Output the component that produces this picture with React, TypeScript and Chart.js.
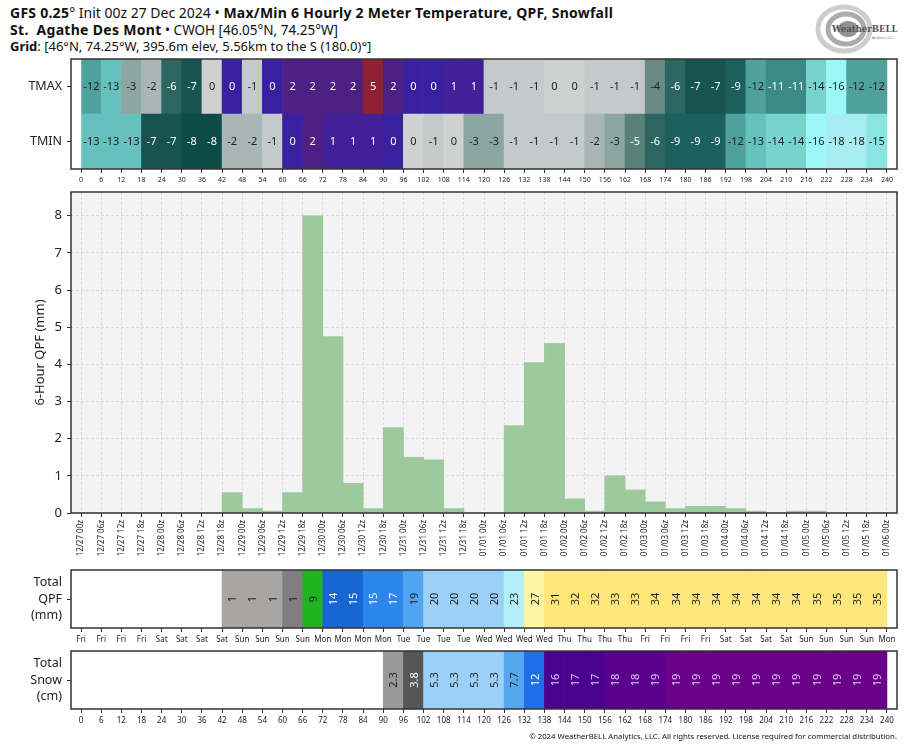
import React, { useEffect, useRef } from "react";
import { Chart, registerables } from "chart.js";
Chart.register(...registerables);

// ---------------- DATA ----------------
const HOURS: number[] = [0, 6, 12, 18, 24, 30, 36, 42, 48, 54, 60, 66, 72, 78, 84, 90, 96, 102, 108, 114, 120,
  126, 132, 138, 144, 150, 156, 162, 168, 174, 180, 186, 192, 198, 204, 210, 216, 222, 228, 234, 240];

const DATE_LABELS: string[] = [
  "12/27 00z", "12/27 06z", "12/27 12z", "12/27 18z",
  "12/28 00z", "12/28 06z", "12/28 12z", "12/28 18z",
  "12/29 00z", "12/29 06z", "12/29 12z", "12/29 18z",
  "12/30 00z", "12/30 06z", "12/30 12z", "12/30 18z",
  "12/31 00z", "12/31 06z", "12/31 12z", "12/31 18z",
  "01/01 00z", "01/01 06z", "01/01 12z", "01/01 18z",
  "01/02 00z", "01/02 06z", "01/02 12z", "01/02 18z",
  "01/03 00z", "01/03 06z", "01/03 12z", "01/03 18z",
  "01/04 00z", "01/04 06z", "01/04 12z", "01/04 18z",
  "01/05 00z", "01/05 06z", "01/05 12z", "01/05 18z",
  "01/06 00z",
];

const DAY_LABELS: string[] = [
  "Fri", "Fri", "Fri", "Fri", "Sat", "Sat", "Sat", "Sat", "Sun", "Sun", "Sun", "Sun",
  "Mon", "Mon", "Mon", "Mon", "Tue", "Tue", "Tue", "Tue", "Wed", "Wed", "Wed", "Wed",
  "Thu", "Thu", "Thu", "Thu", "Fri", "Fri", "Fri", "Fri", "Sat", "Sat", "Sat", "Sat",
  "Sun", "Sun", "Sun", "Sun", "Mon",
];

const TEMP_ROWS: string[] = ["TMAX", "TMIN"];

// 6-hourly max temperature (°C), one per 6h interval (0-6 ... 234-240)
const TMAX: number[] = [-12, -13, -3, -2, -6, -7, -0.3, 0.3, -1, 0.3, 2, 2, 2, 2, 5, 2, 0.3, 0.3, 1, 1,
  -1, -1, -1, -0.3, -0.3, -1, -1, -1, -4, -6, -7, -7, -9, -12, -11, -11, -14, -16, -12, -12];

// 6-hourly min temperature (°C)
const TMIN: number[] = [-13, -13, -13, -7, -7, -8, -8, -2, -2, -1, 0.3, 2, 1, 1, 1, 0.3, -0.3, -1, -0.3, -3,
  -3, -1, -1, -1, -1, -2, -3, -5, -6, -9, -9, -9, -12, -13, -14, -14, -16, -18, -18, -15];

// 6-hour QPF (mm)
const QPF_6H: number[] = [0, 0, 0, 0, 0, 0, 0, 0.55, 0.12, 0.05, 0.55, 8.0, 4.75, 0.8, 0.12, 2.3, 1.5, 1.43, 0.12, 0,
  0, 2.35, 4.05, 4.57, 0.38, 0.05, 1.0, 0.62, 0.3, 0.12, 0.18, 0.18, 0.12, 0.05, 0, 0.05, 0.05, 0, 0, 0];

// accumulated QPF (mm)
const QPF_TOTAL: number[] = [0, 0, 0, 0, 0, 0, 0, 0.6, 0.7, 0.7, 1.3, 9.3, 14.1, 14.9, 15.1, 17.3, 18.8, 20.2, 20.3, 20.3,
  20.3, 22.7, 26.7, 31.3, 31.6, 31.7, 32.7, 33.3, 33.6, 33.7, 33.9, 34.1, 34.2, 34.3, 34.3, 34.4, 34.6, 34.6, 34.7, 34.7];

// accumulated snowfall (cm)
const SNOW_TOTAL: number[] = [0, 0, 0, 0, 0, 0, 0, 0, 0, 0, 0, 0, 0, 0, 0, 2.3, 3.8, 5.3, 5.3, 5.3,
  5.3, 7.7, 12.1, 16.2, 16.8, 17.2, 18.0, 18.3, 18.8, 19.1, 19.1, 19.2, 19.2, 19.2, 19.2, 19.3, 19.3, 19.3, 19.3, 19.3];

const QPF_Y_MAX = 8.64;
const QPF_Y_TICKS: number[] = [0, 1, 2, 3, 4, 5, 6, 7, 8];

// ---------------- STYLES / COLOUR MAPS ----------------
const FONT = '"Noto Sans", "Open Sans", "DejaVu Sans", sans-serif';
const TXT = "#222222";
const FRAME = "#333333";

const COLD_STOPS: [number, string][] = [
  [-18, "#a8edf2"], [-16, "#9cf8f8"], [-15, "#88e5e1"], [-14, "#78d2ce"], [-13, "#64c1bd"],
  [-12, "#50a09c"], [-11, "#3c8a86"], [-10, "#2a7470"], [-9, "#1b605c"], [-8, "#0d4b46"],
  [-7, "#17544f"], [-6, "#2d6660"], [-5, "#5a807c"], [-4, "#6a8a88"], [-3, "#8ca6a2"],
  [-2, "#a8b6b4"], [-1, "#c4c9c9"], [0, "#d4d4d4"],
];
const WARM_STOPS: [number, string][] = [[0, "#3420a4"], [1, "#42209a"], [2, "#4e2084"], [5, "#8e2232"]];

type Bin = { min: number; color: string; text: string };
const QPF_BINS: Bin[] = [
  { min: 0.01, color: "#a9a5a3", text: TXT },
  { min: 1, color: "#7f7f7f", text: TXT },
  { min: 5, color: "#20b420", text: TXT },
  { min: 12.7, color: "#1866d4", text: "#ffffff" },
  { min: 15, color: "#2d86ea", text: "#ffffff" },
  { min: 18.5, color: "#52a5f2", text: TXT },
  { min: 20, color: "#9bd1f8", text: TXT },
  { min: 22.5, color: "#b3f1f9", text: TXT },
  { min: 25, color: "#fff5a3", text: TXT },
  { min: 30, color: "#fee77a", text: TXT },
];
const SNOW_BINS: Bin[] = [
  { min: 0.01, color: "#cfcfcf", text: TXT },
  { min: 2, color: "#9a9a9a", text: TXT },
  { min: 3, color: "#565656", text: "#ffffff" },
  { min: 5, color: "#9bd1f8", text: TXT },
  { min: 7.5, color: "#56a7f2", text: TXT },
  { min: 10, color: "#1f6fe8", text: "#ffffff" },
  { min: 15, color: "#4a018f", text: "#dcc8f4" },
  { min: 17.8, color: "#5a0190", text: "#dcc8f4" },
  { min: 19, color: "#6a0088", text: "#dcc8f4" },
];

function hexToRgb(h: string): number[] {
  const n = parseInt(h.slice(1), 16);
  return [(n >> 16) & 255, (n >> 8) & 255, n & 255];
}
function interp(stops: [number, string][], v: number): string {
  if (v <= stops[0][0]) return stops[0][1];
  if (v >= stops[stops.length - 1][0]) return stops[stops.length - 1][1];
  for (let i = 0; i < stops.length - 1; i++) {
    const [a, ca] = stops[i];
    const [b, cb] = stops[i + 1];
    if (v >= a && v <= b) {
      const t = (v - a) / (b - a);
      const A = hexToRgb(ca), B = hexToRgb(cb);
      const c = A.map((x, k) => Math.round(x + (B[k] - x) * t));
      return `rgb(${c[0]},${c[1]},${c[2]})`;
    }
  }
  return stops[0][1];
}
const tempColor = (v: number) => (v > 0 ? interp(WARM_STOPS, v) : interp(COLD_STOPS, v));
const tempText = (v: number) => (v > 0 || (v <= -5 && v >= -11) ? "#ffffff" : TXT);
function binOf(bins: Bin[], v: number): Bin {
  let r = bins[0];
  for (const b of bins) if (v >= b.min) r = b;
  return r;
}

// ---------------- HELPERS ----------------
type Cell = { y: string; x: [number, number]; v: number };
function cellsFrom(values: number[], row: string, skipZero: boolean): Cell[] {
  const out: Cell[] = [];
  values.forEach((v, i) => {
    if (skipZero && v === 0) return;
    out.push({ y: row, x: [HOURS[i], HOURS[i + 1]], v });
  });
  return out;
}

const noPad = (s: any) => {
  s.paddingTop = 0; s.paddingBottom = 0; s.paddingLeft = 0; s.paddingRight = 0;
};

function framePlugin(bg?: string) {
  return {
    id: "frame",
    beforeDraw(chart: any) {
      if (!bg) return;
      const { ctx, chartArea: a } = chart;
      ctx.save();
      ctx.fillStyle = bg;
      ctx.fillRect(a.left, a.top, a.right - a.left, a.bottom - a.top);
      ctx.restore();
    },
    afterDraw(chart: any) {
      const { ctx, chartArea: a } = chart;
      ctx.save();
      ctx.strokeStyle = FRAME;
      ctx.lineWidth = 1.5;
      ctx.strokeRect(a.left, a.top, a.right - a.left, a.bottom - a.top);
      ctx.restore();
    },
  };
}

function cellLabelPlugin(size: number, rotate: boolean, fmt: (v: number) => string, color: (v: number) => string) {
  return {
    id: "cellLabels",
    afterDatasetsDraw(chart: any) {
      const { ctx } = chart;
      const meta = chart.getDatasetMeta(0);
      const data = chart.data.datasets[0].data as Cell[];
      ctx.save();
      ctx.font = `${size}px ${FONT}`;
      ctx.textAlign = "center";
      ctx.textBaseline = "middle";
      meta.data.forEach((el: any, i: number) => {
        const c = data[i];
        const p = el.getCenterPoint();
        ctx.fillStyle = color(c.v);
        const t = fmt(c.v);
        if (rotate) {
          ctx.save();
          ctx.translate(p.x + 1, p.y);
          ctx.rotate(-Math.PI / 2);
          ctx.fillText(t, 0, 0);
          ctx.restore();
        } else {
          ctx.fillText(t, p.x, p.y + 0.5);
        }
      });
      ctx.restore();
    },
  };
}

const hourTicks = (s: any) => {
  s.ticks = HOURS.map((v) => ({ value: v }));
};

function xHourAxis(height: number, labels: (v: number) => string, size: number) {
  return {
    type: "linear",
    min: -3,
    max: 243,
    offset: false,
    afterBuildTicks: hourTicks,
    afterFit: (s: any) => { s.height = height; noPad(s); },
    ticks: {
      autoSkip: false,
      maxRotation: 0,
      minRotation: 0,
      padding: 3,
      color: TXT,
      font: { family: FONT, size },
      callback: (v: any) => labels(Number(v)),
    },
    grid: {
      offset: false,
      drawOnChartArea: false,
      drawTicks: true,
      tickLength: 4,
      color: FRAME,
      tickColor: FRAME,
    },
    border: { display: false },
  };
}

function rowConfig(cells: Cell[], rows: string[], rowLabel: (i: number) => any, fillOf: (v: number) => string,
  padTop: number, xAxisH: number, xLabels: (v: number) => string, xSize: number, plugins: any[]) {
  return {
    type: "bar",
    data: {
      datasets: [{
        data: cells,
        backgroundColor: (ctx: any) => (ctx.raw ? fillOf(ctx.raw.v) : "#fff"),
        borderWidth: 0,
        barPercentage: 1,
        categoryPercentage: 1,
      }],
    },
    options: {
      indexAxis: "y",
      responsive: false,
      maintainAspectRatio: false,
      animation: false,
      events: [],
      layout: { padding: { left: 0, right: 17, top: padTop, bottom: 0 } },
      plugins: { legend: { display: false }, tooltip: { enabled: false }, title: { display: false } },
      scales: {
        x: xHourAxis(xAxisH, xLabels, xSize),
        y: {
          type: "category",
          labels: rows,
          offset: true,
          afterFit: (s: any) => { s.width = 71; noPad(s); },
          ticks: {
            color: TXT,
            padding: 5,
            font: { family: FONT, size: 12.5, lineHeight: 1.3 },
            callback: (_v: any, i: number) => rowLabel(i),
          },
          grid: { offset: false, drawOnChartArea: false, tickLength: 4, color: FRAME, tickColor: FRAME },
          border: { display: false },
        },
      },
    },
    plugins,
  };
}

// ---------------- APP ----------------
export default function App() {
  const c1 = useRef<HTMLCanvasElement>(null);
  const c2 = useRef<HTMLCanvasElement>(null);
  const c3 = useRef<HTMLCanvasElement>(null);
  const c4 = useRef<HTMLCanvasElement>(null);

  useEffect(() => {
    const charts: Chart[] = [];

    // Panel 1: TMAX / TMIN heat strip
    const tempCells = [...cellsFrom(TMAX, "TMAX", false), ...cellsFrom(TMIN, "TMIN", false)];
    charts.push(new Chart(c1.current!, rowConfig(
      tempCells, TEMP_ROWS, (i) => TEMP_ROWS[i], tempColor, 9, 21,
      (v) => String(v), 7,
      [framePlugin(), cellLabelPlugin(11, false, (v) => String(Math.round(v)), tempText)],
    ) as any));

    // Panel 2: 6-hour QPF bars
    charts.push(new Chart(c2.current!, {
      type: "bar",
      data: {
        datasets: [{
          data: QPF_6H.map((v, i) => ({ x: HOURS[i] + 3, y: v })),
          backgroundColor: "#9dca9c",
          borderWidth: 0,
          barPercentage: 1,
          categoryPercentage: 1,
        }],
      },
      options: {
        responsive: false,
        maintainAspectRatio: false,
        animation: false,
        events: [],
        layout: { padding: { left: 0, right: 17, top: 2, bottom: 0 } },
        plugins: { legend: { display: false }, tooltip: { enabled: false } },
        scales: {
          x: {
            ...xHourAxis(57, (v) => DATE_LABELS[HOURS.indexOf(v)] ?? "", 8),
            ticks: {
              autoSkip: false, maxRotation: 90, minRotation: 90, padding: 3, color: TXT,
              font: { family: FONT, size: 8 },
              callback: (v: any) => DATE_LABELS[HOURS.indexOf(Number(v))] ?? "",
            },
            grid: {
              offset: false, drawOnChartArea: true, drawTicks: true, tickLength: 4,
              color: "#d4d4d4", lineWidth: 0.8, tickColor: FRAME, tickWidth: 1,
            },
            border: { display: false, dash: [3, 2] },
          },
          y: {
            type: "linear",
            min: 0,
            max: QPF_Y_MAX,
            afterBuildTicks: (s: any) => { s.ticks = QPF_Y_TICKS.map((v) => ({ value: v })); },
            afterFit: (s: any) => { s.width = 71; noPad(s); },
            title: {
              display: true, text: "6-Hour QPF (mm)", color: TXT,
              font: { family: FONT, size: 13 }, padding: { top: 32, bottom: 0 },
            },
            ticks: { color: TXT, padding: 5, font: { family: FONT, size: 13 }, callback: (v: any) => String(v) },
            grid: { color: "#d4d4d4", lineWidth: 0.8, tickLength: 4, tickColor: FRAME, tickWidth: 1 },
            border: { display: false, dash: [3, 2] },
          },
        },
      },
      plugins: [framePlugin("#f3f3f3")],
    } as any));

    // Panel 3: Total QPF
    charts.push(new Chart(c3.current!, rowConfig(
      cellsFrom(QPF_TOTAL, "QPF", true), ["QPF"], () => ["Total", "QPF", "(mm)"],
      (v) => binOf(QPF_BINS, v).color, 5, 22,
      (v) => DAY_LABELS[HOURS.indexOf(v)] ?? "", 8,
      [framePlugin(), cellLabelPlugin(11, true, (v) => String(Math.round(v)), (v) => binOf(QPF_BINS, v).text)],
    ) as any));

    // Panel 4: Total Snow
    charts.push(new Chart(c4.current!, rowConfig(
      cellsFrom(SNOW_TOTAL, "SNOW", true), ["SNOW"], () => ["Total", "Snow", "(cm)"],
      (v) => binOf(SNOW_BINS, v).color, 6, 21,
      (v) => String(v), 8,
      [framePlugin(), cellLabelPlugin(11, true, (v) => (v < 10 ? v.toFixed(1) : String(Math.round(v))), (v) => binOf(SNOW_BINS, v).text)],
    ) as any));

    return () => charts.forEach((c) => c.destroy());
  }, []);

  const cv = (top: number, h: number): React.CSSProperties => ({
    position: "absolute", left: 0, top, width: 914, height: h, display: "block",
  });
  const line: React.CSSProperties = {
    position: "absolute", left: 10, fontFamily: FONT, fontSize: 13, lineHeight: "17px",
    color: "#111", whiteSpace: "pre",
  };

  return (
    <div style={{ position: "absolute", left: 0, top: 0, width: 914, height: 750, background: "#fff", overflow: "hidden" }}>
      <div style={{ ...line, top: 4, fontSize: 14 }}>
        <b style={{ letterSpacing: "0.25px" }}>GFS 0.25</b>° Init 00z 27 Dec 2024 • <b style={{ letterSpacing: "0.25px" }}>Max/Min 6 Hourly 2 Meter Temperature, QPF, Snowfall</b>
      </div>
      <div style={{ ...line, top: 21, fontSize: 13.5 }}>
        <b style={{ fontSize: 14, letterSpacing: "0.3px" }}>St.  Agathe Des Mont</b> • CWOH [46.05°N, 74.25°W]
      </div>
      <div style={{ ...line, top: 38 }}>
        <b>Grid</b>: [46°N, 74.25°W, 395.6m elev, 5.56km to the S (180.0)°]
      </div>

      <svg style={{ position: "absolute", left: 810, top: 2, width: 96, height: 54 }} viewBox="0 0 96 54">
        <ellipse cx="34" cy="27" rx="26" ry="22" fill="none" stroke="#cdcdcd" strokeWidth="5" />
        <ellipse cx="36" cy="27" rx="18" ry="15" fill="none" stroke="#ababab" strokeWidth="5" />
        <ellipse cx="38" cy="27" rx="10" ry="8" fill="#929292" />
        <text x="22" y="30" fontFamily="'DejaVu Serif', serif" fontSize="8.5" fontWeight="bold" fill="#555">WeatherBELL</text>
        <text x="62" y="37" fontFamily={FONT} fontSize="3.5" fill="#777">Analytics LLC</text>
      </svg>

      <canvas ref={c1} width={914} height={140} style={cv(50, 140)} />
      <canvas ref={c2} width={914} height={380} style={cv(190, 380)} />
      <canvas ref={c3} width={914} height={85} style={cv(565, 85)} />
      <canvas ref={c4} width={914} height={85} style={cv(645, 85)} />

      <div style={{
        position: "absolute", right: 17, top: 731, fontFamily: FONT, fontSize: 7.8, lineHeight: "11px",
        color: "#111", whiteSpace: "nowrap",
      }}>
        © 2024 WeatherBELL Analytics, LLC. All rights reserved. License required for commercial distribution.
      </div>
    </div>
  );
}
